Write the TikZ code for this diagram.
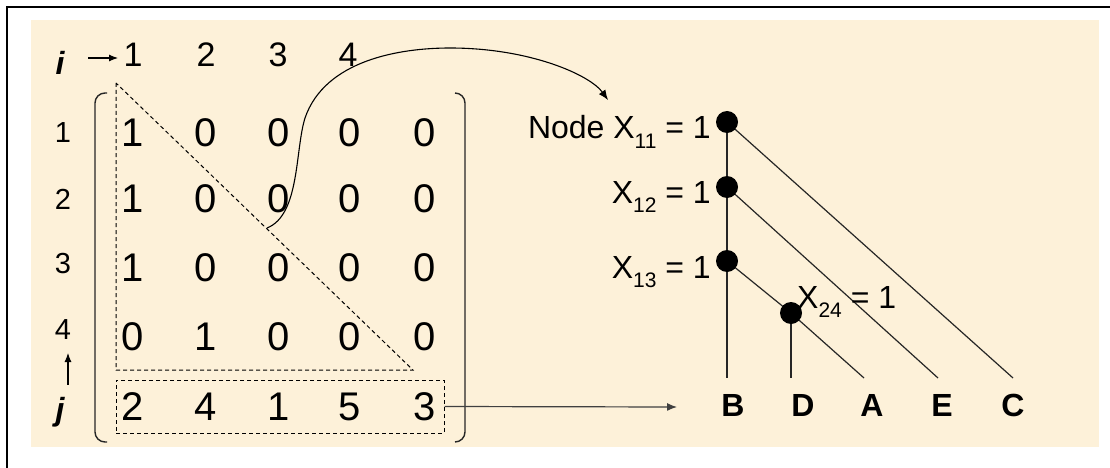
\documentclass[tikz,border=0pt]{standalone}
\usepackage{fontspec}
\setmainfont{Liberation Sans}
\usetikzlibrary{arrows.meta}
\definecolor{beige}{RGB}{253,241,217}
\newcommand\mysub[1]{\raisebox{-0.3em}{\fontsize{21}{21}\selectfont #1}}
\begin{document}
\begin{tikzpicture}[x=1pt,y=-1pt,
  dig/.style={font=\fontsize{40}{42}\selectfont, inner sep=0pt},
  cidx/.style={font=\fontsize{34}{36}\selectfont, inner sep=0pt},
  ridx/.style={font=\fontsize{29}{31}\selectfont, inner sep=0pt},
  ijlab/.style={font=\fontsize{32}{34}\selectfont\bfseries\itshape, inner sep=0pt},
  leaf/.style={font=\fontsize{32}{34}\selectfont\bfseries, inner sep=0pt},
  xlab/.style={font=\fontsize{32}{34}\selectfont, inner sep=0pt},
  dot/.style={circle, fill=black, minimum size=22pt, inner sep=0pt},
  arr/.style={-{Latex[length=10pt,width=8pt]}, line width=1.1pt},
  dashln/.style={dashed, dash pattern=on 4pt off 3pt, line width=1pt},
  brk/.style={line width=1.4pt, draw=black!85, rounded corners=10pt},
  thinln/.style={line width=1.2pt, draw=black!85}]
\useasboundingbox (0,0) rectangle (1110,468);
\fill[beige] (31,20) rectangle (1099,447);
\draw[line width=2pt] (7,468) -- (7,7) -- (1110,7);

% index labels
\node[ijlab, anchor=base] (i) at (60,75) {i};
\node[ijlab, anchor=base] (j) at (60,420) {j};
\foreach \n/\x in {1/133,2/206,3/278,4/348}
  \node[cidx] (c\n) at (\x,55) {\n};
\foreach \n/\y in {1/133,2/199,3/264,4/330}
  \node[ridx] (r\n) at (63,\y) {\n};
\draw[arr, -{Latex[length=9pt,width=7pt]}] (88,58) -- (118,58);
\draw[arr, -{Latex[length=9pt,width=7pt]}] ([xshift=8pt,yshift=12pt]j.north) -- (68,353);

% matrix
\foreach \r/\y/\vals in {1/133/{1,0,0,0,0},2/199/{1,0,0,0,0},3/268/{1,0,0,0,0},4/337/{0,1,0,0,0},5/407/{2,4,1,5,3}}{
  \foreach \v [count=\c] in \vals {
    \pgfmathsetmacro\xx{{133,206,279,350,425}[\c-1]}
    \node[dig] (m\r\c) at (\xx,\y) {\v};
  }
}
\draw[brk] (107,93) -- (95,93) -- (95,442) -- (107,442);
\draw[brk] (455,93) -- (465,93) -- (465,442) -- (455,442);

% dashed triangle and box
\coordinate (tA) at (116,83);
\coordinate (tB) at (116,370);
\coordinate (tC) at (413,370);
\draw[dashln] (tA) -- (tB) -- (tC) -- cycle;
\node[draw, dashln, minimum width=328pt, minimum height=53pt, inner sep=0pt] (lastrow) at (280,406.5) {};

% tree
\coordinate (p11) at (727,122);
\coordinate (p12) at (727,187);
\coordinate (p13) at (727,261);
\coordinate (p24) at (791,313);
\coordinate (eB) at (727,378);
\coordinate (eD) at (791,378);
\coordinate (eA) at (864,378);
\coordinate (eE) at (938,378);
\coordinate (eC) at (1013,378);
\draw[thinln] (p11) -- (p12) -- (p13) -- (eB);
\draw[thinln] (p24) -- (eD);
\draw[thinln] (p11) -- (eC);
\draw[thinln] (p12) -- (eE);
\draw[thinln] (p13) -- (p24) -- (eA);
\node[dot] (n11) at (p11) {};
\node[dot] (n12) at (p12) {};
\node[dot] (n13) at (p13) {};
\node[dot] (n24) at (p24) {};

\node[leaf] (B) at (733,405) {B};
\node[leaf] (D) at (803,405) {D};
\node[leaf] (A) at (872,405) {A};
\node[leaf] (E) at (942,405) {E};
\node[leaf] (C) at (1013,405) {C};

\node[xlab, anchor=base east] (L11) at (711,139) {Node X\mysub{11} = 1};
\node[xlab, anchor=base east] (L12) at (711,203) {X\mysub{12} = 1};
\node[xlab, anchor=base east] (L13) at (711,278) {X\mysub{13} = 1};
\node[xlab, anchor=base west] (L24) at (797,308) {X\mysub{24} = 1};

% connectors
\coordinate (Btip) at (677,407);
\draw[arr, line width=1.2pt, draw=black!75] (lastrow.east) -- (Btip);
\coordinate (hstart) at (267,228);
\coordinate (ctip) at (608,100);
\draw[arr] (hstart) .. controls (300,215) and (295,150) .. (305,118)
  .. controls (325,60) and (400,48) .. (450,48)
  .. controls (530,48) and (590,75) .. (ctip);
\end{tikzpicture}
\end{document}
